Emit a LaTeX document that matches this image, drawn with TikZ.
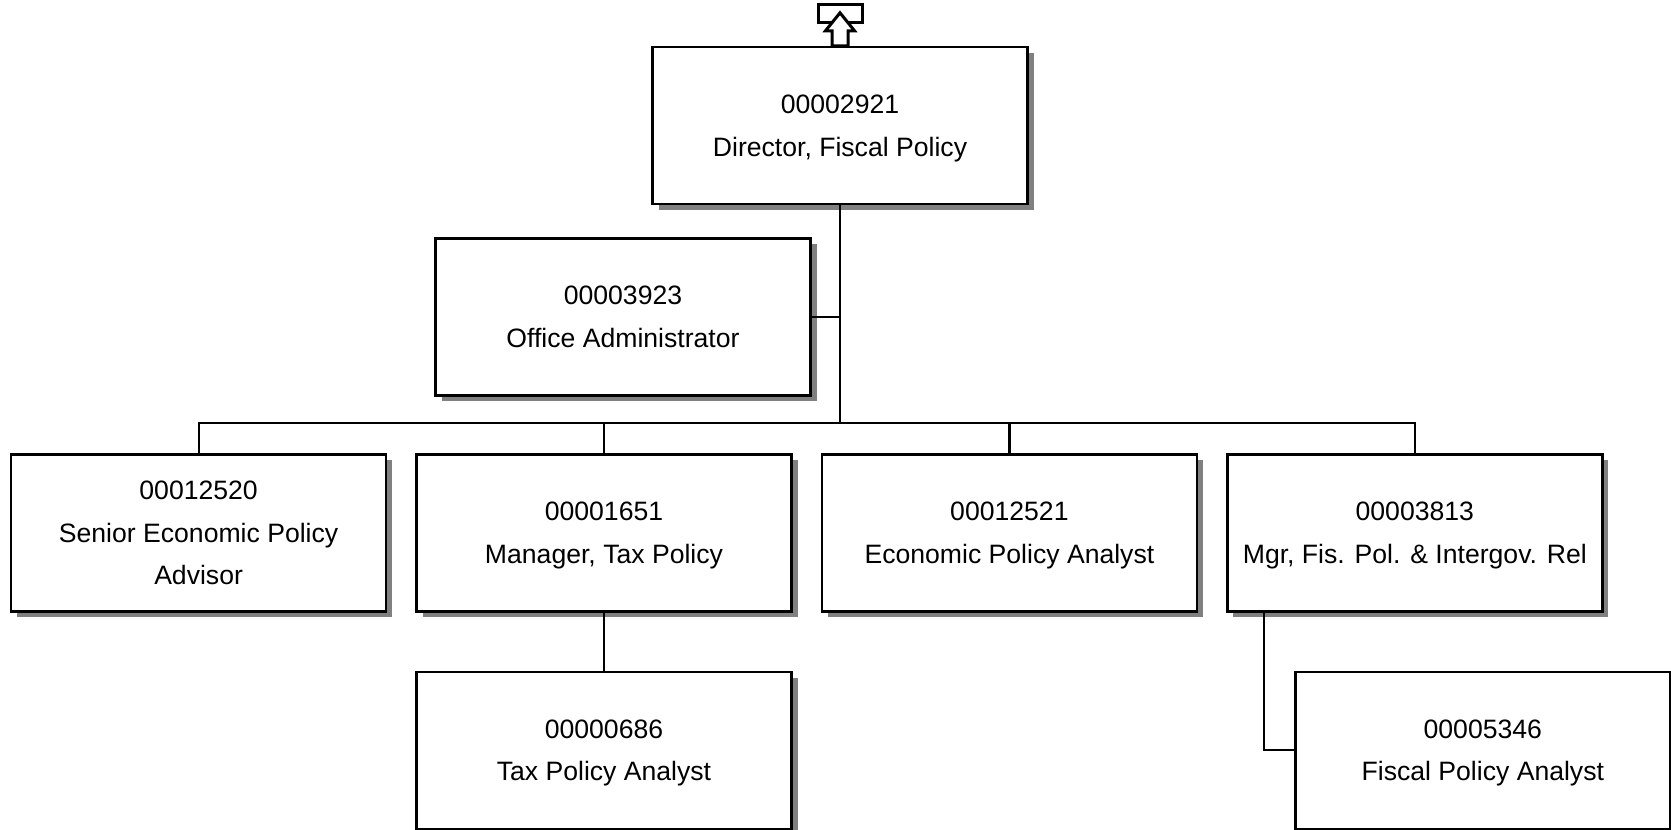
\documentclass[tikz,border=0pt]{standalone}
\usepackage{fontspec}
\setmainfont{Liberation Sans}
\usetikzlibrary{positioning,shadows}
\definecolor{shadowgray}{RGB}{128,128,128}

\begin{document}
\begin{tikzpicture}[
        box/.style={draw, line width=1.2pt, fill=white, minimum width=187.5pt, minimum height=78.5pt,
            inner sep=0pt, align=center, text depth=0pt, font=\fontsize{13.3}{21.3}\selectfont,
            drop shadow={shadow xshift=3pt, shadow yshift=-3pt, fill=shadowgray, opacity=1}},
        link/.style={line width=1.1pt},
        icon/.style={draw, line width=1.5pt, fill=white, line join=miter}
    ]
        \useasboundingbox (0,0) rectangle (835.5pt,-415pt);

        % top nodes
        \node[box] (dir) at (420pt,-62.75pt) {00002921\\Director, Fiscal Policy};
        \node[box, below=16pt of dir, xshift=-108.5pt] (adm) {00003923\\Office Administrator};

        % middle row
        \node[box, below=124pt of dir, xshift=-118pt] (mtp) {00001651\\Manager, Tax Policy};
        \node[box, left=14pt of mtp] (sep) {00012520\\Senior Economic Policy\\Advisor};
        \node[box, right=14pt of mtp] (epa) {00012521\\Economic Policy Analyst};
        \node[box, right=14pt of epa] (mfp) {00003813\\Mgr, Fis. Pol. \& Intergov. Rel};

        % bottom row
        \node[box, below=29pt of mtp] (tpa) {00000686\\Tax Policy Analyst};
        \node[box, below=29pt of mfp, xshift=34pt] (fpa) {00005346\\Fiscal Policy Analyst};

        % connectors
        \coordinate[above=15pt of mtp.north] (bar);
        \draw[link] (dir.south) -- (dir.south |- bar);
        \draw[link] (adm.east) -- (adm.east -| dir.south);
        \draw[link] (sep.north) -- (sep.north |- bar) -- (mfp.north |- bar) -- (mfp.north);
        \draw[link] (mtp.north) -- (mtp.north |- bar);
        \draw[link] (epa.north) -- (epa.north |- bar);
        \draw[link] (mtp.south) -- (tpa.north);
        \draw[link] ([xshift=19pt]mfp.south west) |- (fpa.west);

        % up icon
        \begin{scope}[shift={(dir.north)}]
            \draw[icon] (-11pt,11.5pt) rectangle (11pt,20.5pt);
            \draw[icon] (0,16.5pt) -- (7.25pt,7.5pt) -- (4pt,7.5pt) -- (4pt,0) -- (-4pt,0)
                -- (-4pt,7.5pt) -- (-7.25pt,7.5pt) -- cycle;
        \end{scope}
    \end{tikzpicture}
\end{document}
